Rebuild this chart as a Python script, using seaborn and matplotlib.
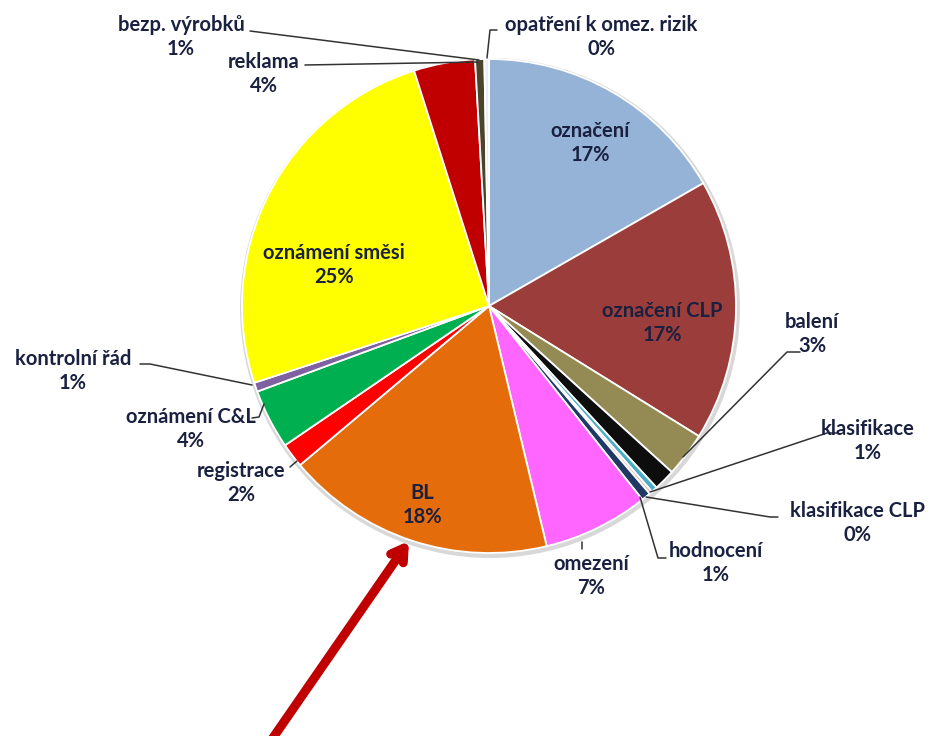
import matplotlib
matplotlib.use("Agg")
import matplotlib.pyplot as plt
import seaborn as sns

# ---- data (clockwise from 12 o'clock) ----
categories = ["označení", "označení CLP", "balení", "klasifikace", "klasifikace CLP",
              "", "hodnocení", "omezení", "BL", "registrace", "oznámení C&L",
              "kontrolní řád", "oznámení směsi", "reklama", "bezp. výrobků",
              "opatření k omez. rizik"]
shares = [16.7, 17.1, 2.9, 1.4, 0.4, 0.2, 0.6, 6.9, 17.6, 1.6, 3.9, 0.6, 25.1, 4.0, 0.6, 0.3]
colors = ["#95B3D7", "#9B3D3B", "#948A54", "#0D0D0D", "#4BACC6", "#E6B9B8", "#1F3864",
          "#FF66FF", "#E46C0A", "#FF0000", "#00B050", "#7F60A0", "#FFFF00", "#C00000",
          "#4A452A", "#EDEDF5"]

W, H = 936, 736
sns.set_style("white")
plt.rcParams["font.family"] = ["Lato", "DejaVu Sans"]

fig = plt.figure(figsize=(W / 100, H / 100), dpi=100)
ax = fig.add_axes([0, 0, 1, 1])
ax.set_xlim(0, W)
ax.set_ylim(0, H)
ax.axis("off")

def P(x, y):
    return (x, H - y)

cx, cy = P(489, 306)
R = 247

# soft shadow ring
shadow = plt.Circle((cx + 1, cy - 2), R + 3, color="#BFBFBF", alpha=0.6, zorder=0, lw=0)
ax.add_patch(shadow)

pal = sns.color_palette(colors)
wedges, _ = ax.pie(shares, colors=pal, startangle=90, counterclock=False,
                   center=(cx, cy), radius=R, frame=True,
                   wedgeprops=dict(edgecolor="white", linewidth=1.3))
ax.set_xlim(0, W)
ax.set_ylim(0, H)
ax.axis("off")

txt_color = "#1A2040"
fs = 14.5

# label positions (pixel centres), leader lines
label_pos = {
    "označení": (590, 143),
    "označení CLP": (662, 323),
    "balení": (812, 334),
    "klasifikace": (868, 441),
    "klasifikace CLP": (858, 523),
    "hodnocení": (716, 563),
    "omezení": (591, 576),
    "BL": (422, 505),
    "registrace": (241, 483),
    "oznámení C&L": (191, 429),
    "kontrolní řád": (73, 371),
    "oznámení směsi": (334, 265),
    "reklama": (264, 74),
    "bezp. výrobků": (181, 37),
    "opatření k omez. rizik": (601, 37),
}
leaders = {
    "balení": [(800, 352), (787, 352), (683, 457)],
    "klasifikace": [(838, 433), (827, 433), (650, 492)],
    "klasifikace CLP": [(778, 517), (770, 517), (646, 497)],
    "hodnocení": [(666, 558), (658, 558), (640, 497)],
    "omezení": [(582, 549), (582, 542)],
    "registrace": [(290, 467), (297, 461)],
    "oznámení C&L": [(252, 418), (259, 417), (264, 404)],
    "kontrolní řád": [(140, 364), (150, 364), (252, 385)],
    "reklama": [(305, 65), (478, 62)],
    "bezp. výrobků": [(250, 31), (479, 60)],
    "opatření k omez. rizik": [(497, 30), (490, 30), (487, 58)],
}

for name, val in zip(categories, shares):
    if not name:
        continue
    x, y = label_pos[name]
    ax.text(*P(x, y), f"{name}\n{round(val)}%", ha="center", va="center",
            fontsize=fs, fontweight="bold", color=txt_color, linespacing=1.3, zorder=5)
    if name in leaders:
        pts = [P(px, py) for px, py in leaders[name]]
        ax.plot([p[0] for p in pts], [p[1] for p in pts], color="#333333", lw=1.1, zorder=4)

# red arrow pointing at BL
ax.annotate("", xy=P(409, 541), xytext=P(268, 745),
            arrowprops=dict(arrowstyle="->,head_length=0.9,head_width=0.55",
                            color="#C00000", lw=6.5, capstyle="round",
                            joinstyle="round", shrinkA=0, shrinkB=0),
            zorder=6, annotation_clip=False)

fig.savefig("out.png", dpi=100, facecolor="white")
